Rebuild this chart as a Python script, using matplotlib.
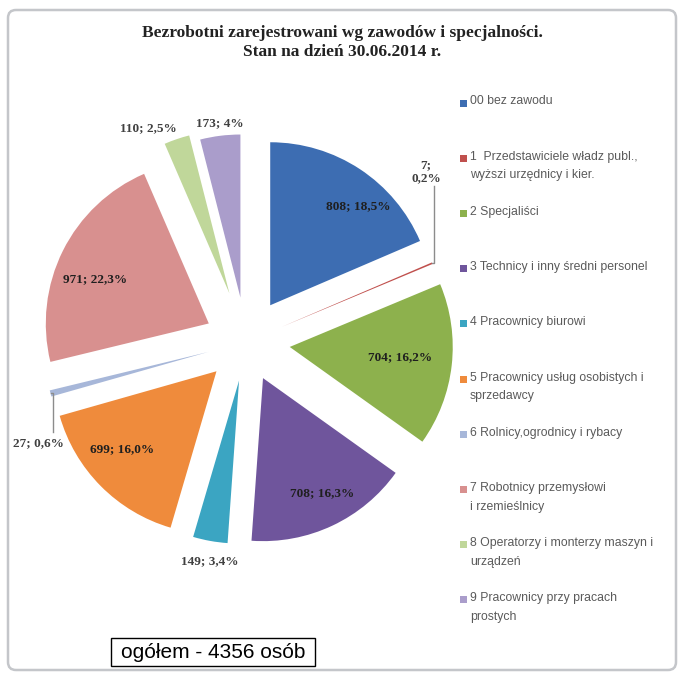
import matplotlib
matplotlib.use('Agg')
from matplotlib import pyplot as plt
from matplotlib.patches import Rectangle, FancyBboxPatch
import numpy as np

# data
codes = ['00', '1', '2', '3', '4', '5', '6', '7', '8', '9']
names = ['00 bez zawodu',
         '1  Przedstawiciele władz publ.,\nwyższi urzędnicy i kier.',
         '2 Specjaliści',
         '3 Technicy i inny średni personel',
         '4 Pracownicy biurowi',
         '5 Pracownicy usług osobistych i\nsprzedawcy',
         '6 Rolnicy,ogrodnicy i rybacy',
         '7 Robotnicy przemysłowi\ni rzemieślnicy',
         '8 Operatorzy i monterzy maszyn i\nurządzeń',
         '9 Pracownicy przy pracach\nprostych']
counts = [808, 7, 704, 708, 149, 699, 27, 971, 110, 173]
pct_labels = ['18,5%', '0,2%', '16,2%', '16,3%', '3,4%', '16,0%', '0,6%', '22,3%', '2,5%', '4%']

# styling
colors = ['#3d6db2', '#c0504d', '#8db14d', '#6f559c', '#3ba5c2',
          '#ef8b3c', '#a7b7d9', '#d8908f', '#c0d79a', '#aa9dcb']
explode = [0.27, 0.24, 0.27, 0.245, 0.24, 0.255, 0.24, 0.255, 0.315, 0.275]
W, H = 684, 678
center = (246, 342)
radius = 163

# label positions in pixels (x, y, inside?)
label_pos = [(358, 206, True), (426, 172, False), (400, 357, True), (322, 493, True),
             (210, 561, False), (122, 449, True), (38, 443, False), (95, 279, True),
             (148, 128, False), (220, 123, False)]

fig = plt.figure(figsize=(W / 100, H / 100), dpi=100)
ax = fig.add_axes([0, 0, 1, 1])

# pie's explode offset is in data units, so scale by radius
wedges, _ = ax.pie(counts, colors=colors, explode=[e * radius for e in explode],
                   center=center, radius=radius, startangle=-90, counterclock=True,
                   wedgeprops=dict(linewidth=0))
ax.set_xlim(0, W)
ax.set_ylim(H, 0)
ax.set_aspect('auto')
ax.axis('off')

# chart frame
ax.add_patch(FancyBboxPatch((8, 10), 668, 660, boxstyle='round,pad=0,rounding_size=8',
                            fc='none', ec='#c4c6ca', lw=1.8))

ax.text(342, 33, 'Bezrobotni zarejestrowani wg zawodów i specjalności.',
        ha='center', va='center', family='Liberation Serif', weight='bold',
        fontsize=12.5, color='#222222')
ax.text(342, 52, 'Stan na dzień 30.06.2014 r.', ha='center', va='center',
        family='Liberation Serif', weight='bold', fontsize=12.5, color='#222222')

# data labels
for (x, y, inside), n, p in zip(label_pos, counts, pct_labels):
    txt = f'{n}; {p}'
    if n == 7:
        txt = f'{n};\n{p}'
    ax.text(x, y, txt, ha='center', va='center', family='Liberation Serif',
            weight='bold', fontsize=9.5, color='#1f1f1f' if inside else '#404040',
            linespacing=1.1)

# leader lines for the thin slices
for i, y_end in [(1, 186), (6, 432)]:
    w = wedges[i]
    th = np.deg2rad((w.theta1 + w.theta2) / 2)
    cx, cy = w.center
    ox, oy = cx + w.r * np.cos(th), cy + w.r * np.sin(th)
    ax.plot([ox, ox + 2, ox + 2], [oy, oy, y_end], color='#8c8c8c', lw=1)

# legend
for i, (name, c) in enumerate(zip(names, colors)):
    y = 103 + 55.2 * i
    ax.add_patch(Rectangle((460, y - 3.5), 7, 7, fc=c, ec='none'))
    ax.text(470, y - 7.5, name, ha='left', va='top', family='Liberation Sans',
            fontsize=8.8, color='#5a5a5a', linespacing=1.75)

# total box
ax.add_patch(Rectangle((111, 638), 204, 28, fc='white', ec='black', lw=1))
ax.text(213, 652, 'ogółem - 4356 osób', ha='center', va='center',
        family='Liberation Sans', fontsize=15, color='black')

fig.savefig('out.png', dpi=100)
